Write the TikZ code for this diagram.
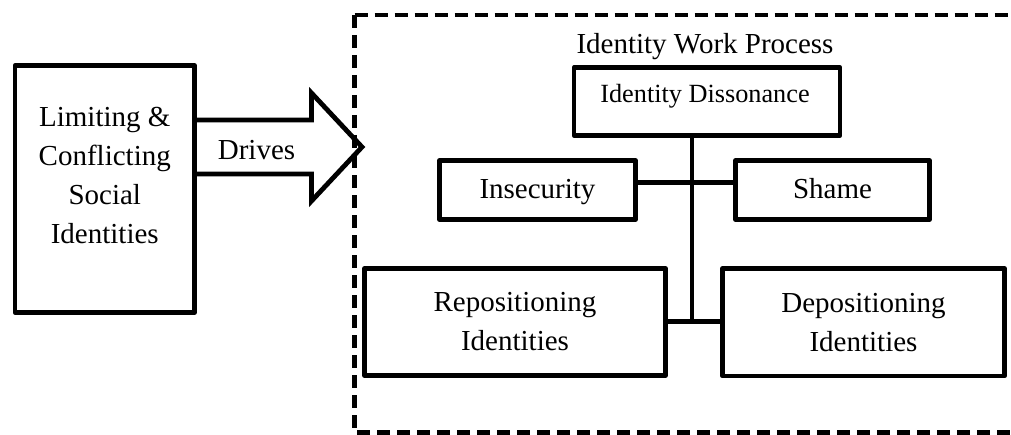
\documentclass[tikz,border=0pt]{standalone}
\usepackage{fontspec}
\setmainfont{Liberation Serif}
\begin{document}
\begin{tikzpicture}[x=0.75pt,y=-0.75pt,
  box/.style={draw, line width=3.6pt, line join=round, inner sep=0pt, outer sep=0pt,
    align=center, font=\fontsize{21.75}{29.25}\selectfont},
  oneline/.style={text height=12pt, text depth=0pt},
  txt/.style={inner sep=0pt, outer sep=0pt, align=center, font=\fontsize{21.75}{29.25}\selectfont},
  link/.style={line width=3.6pt},
  frame/.style={line width=3.4pt, dash pattern=on 10pt off 5pt}]

\useasboundingbox (0,0) rectangle (1011,435);

% source box on the left
\node[box, minimum width=134.6pt, minimum height=185.25pt] (src) at (104.75,189) {};
\node[txt] (srctext) at (104.75,175) {Limiting \&\\Conflicting\\Social\\Identities};

% block arrow leaving the source box
\draw[link, line join=miter]
  ([yshift=51.75pt]src.east) -- (311.5,120) -- (311.5,93) -- (362,147)
  -- (311.5,201) -- (311.5,174) -- ([yshift=11.25pt]src.east);
\node[txt, anchor=base] (drives) at (256.5,160) {Drives};

% dashed process frame (open to the right)
\draw[frame] (354.5,15) -- (1030,15);
\draw[frame] (354.5,15) -- (354.5,432.5) -- (1030,432.5);
\node[txt, anchor=base] (title) at (705,54) {Identity Work Process};

% process boxes
\node[box, minimum width=199.5pt, minimum height=51pt] (diss) at (707,101.5) {};
\node[txt, anchor=base, font=\fontsize{19.7}{24}\selectfont] (disstext) at (705,103) {Identity Dissonance};
\node[box, oneline, minimum width=147pt, minimum height=44.25pt] (insec) at (537.5,190) {Insecurity};
\node[box, oneline, minimum width=145.5pt, minimum height=44.25pt] (shame) at (832.5,190) {Shame};
\node[box, minimum width=225.75pt, minimum height=80.25pt] (repos) at (515,322) {Repositioning\\Identities};
\node[box, minimum width=211.5pt, minimum height=80.6pt] (depos) at (863.5,322.25) {Depositioning\\Identities};

% connecting tree
\coordinate (jtop) at (692,182.5);
\coordinate (jbot) at (692,321.5);
\draw[link] (diss.south -| jtop) -- (jbot);
\draw[link] (insec.east |- jtop) -- (shame.west |- jtop);
\draw[link] (repos.east |- jbot) -- (depos.west |- jbot);
\end{tikzpicture}
\end{document}
